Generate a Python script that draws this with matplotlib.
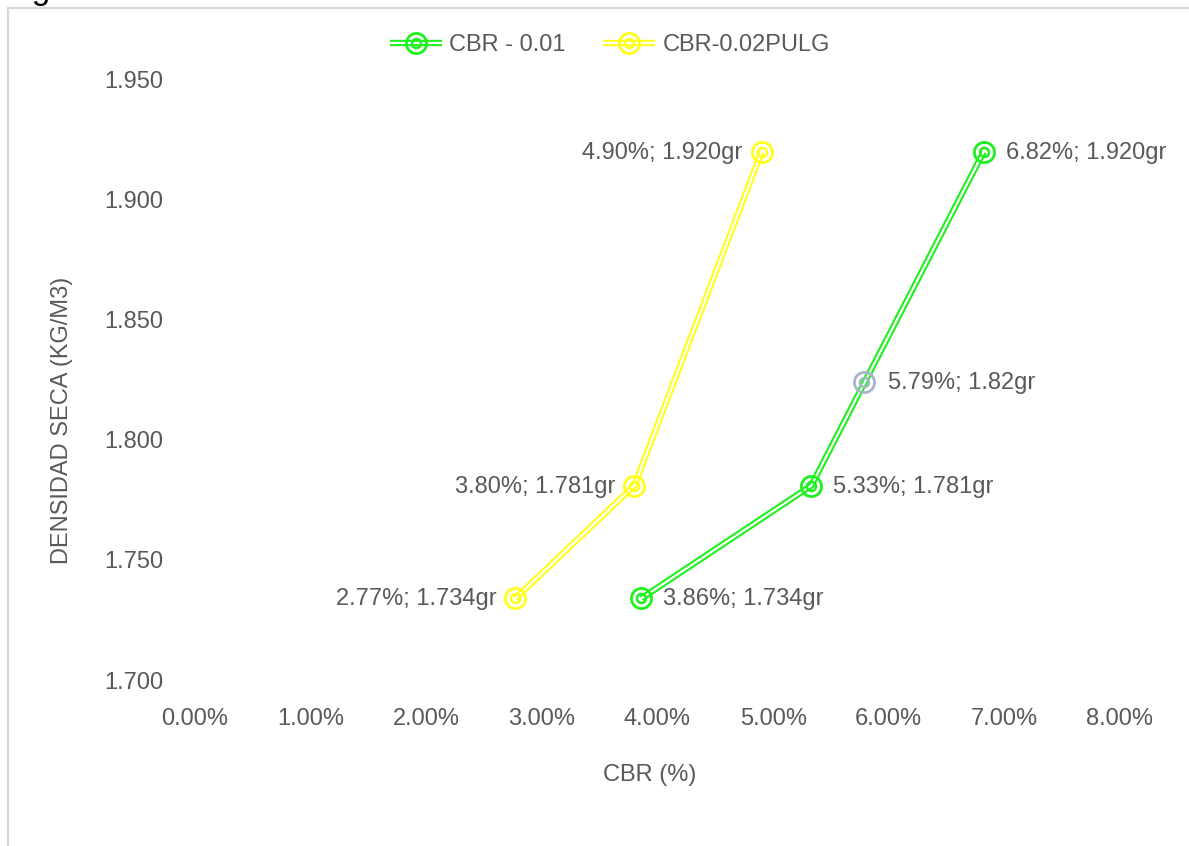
import matplotlib
matplotlib.use("Agg")
import matplotlib.pyplot as plt
from matplotlib.lines import Line2D
from matplotlib.patches import Rectangle

plt.rcParams['font.family'] = ['Liberation Sans', 'DejaVu Sans']

# Data
cbr_001 = [3.86, 5.33, 6.82]
dens_001 = [1.734, 1.781, 1.920]
labels_001 = ["3.86%; 1.734gr", "5.33%; 1.781gr", "6.82%; 1.920gr"]

cbr_002 = [2.77, 3.80, 4.90]
dens_002 = [1.734, 1.781, 1.920]
labels_002 = ["2.77%; 1.734gr", "3.80%; 1.781gr", "4.90%; 1.920gr"]

extra_cbr = [5.79]
extra_dens = [1.824]
extra_labels = ["5.79%; 1.82gr"]

xticks = [0, 1, 2, 3, 4, 5, 6, 7, 8]
yticks = [1.700, 1.750, 1.800, 1.850, 1.900, 1.950]

GREEN = '#1EF01E'
YELLOW = '#FFFF1A'
GRAY = '#A7B4CB'
TXT = '#595959'
FS = 17

W, H = 1189, 846
fig = plt.figure(figsize=(W / 100, H / 100), dpi=100)
ax = fig.add_axes([195 / W, 1 - 680 / H, (1120 - 195) / W, (680 - 80) / H])

def series(x, y, color, line=True):
    arts = []
    if line:
        a, = ax.plot(x, y, color=color, lw=4.6, solid_capstyle='butt', zorder=2)
        b, = ax.plot(x, y, color='white', lw=1.6, solid_capstyle='butt', zorder=3)
        arts += [a, b]
    c, = ax.plot(x, y, ls='none', marker='o', ms=14.5, mfc='none', mec=color, mew=2.0, zorder=4)
    d, = ax.plot(x, y, ls='none', marker='o', ms=6.5, mfc='none', mec=color, mew=1.8, zorder=4)
    arts += [c, d]
    return arts

series(cbr_001, dens_001, GREEN)
series(cbr_002, dens_002, YELLOW)
series(extra_cbr, extra_dens, GRAY, line=False)

for x, y, t in zip(cbr_001, dens_001, labels_001):
    ax.annotate(t, (x, y), xytext=(22, -1), textcoords='offset pixels',
                ha='left', va='center', fontsize=FS, color=TXT)
for x, y, t in zip(extra_cbr, extra_dens, extra_labels):
    ax.annotate(t, (x, y), xytext=(24, -1), textcoords='offset pixels',
                ha='left', va='center', fontsize=FS, color=TXT)
for x, y, t in zip(cbr_002, dens_002, labels_002):
    ax.annotate(t, (x, y), xytext=(-19, -1), textcoords='offset pixels',
                ha='right', va='center', fontsize=FS, color=TXT)

ax.set_xlim(0, 8)
ax.set_ylim(1.700, 1.950)
ax.set_xticks(xticks)
ax.set_xticklabels([f"{v:.2f}%" for v in xticks])
ax.set_yticks(yticks)
ax.set_yticklabels([f"{v:.3f}" for v in yticks])
ax.tick_params(axis='both', length=0, labelsize=FS, labelcolor=TXT)
ax.tick_params(axis='x', pad=20)
ax.tick_params(axis='y', pad=23)
for s in ax.spines.values():
    s.set_visible(False)
ax.patch.set_visible(False)

fig.text(650 / W, 1 - 775 / H, "CBR (%)", ha='center', va='center', fontsize=FS, color=TXT)
fig.text(62 / W, 1 - 420 / H, "DENSIDAD SECA (KG/M3)", ha='center', va='center',
         rotation=90, fontsize=FS, color=TXT)

def handle(color):
    return (Line2D([], [], color=color, lw=4.6, solid_capstyle='butt'),
            Line2D([], [], color='white', lw=1.6, solid_capstyle='butt'),
            Line2D([], [], ls='none', marker='o', ms=14.5, mfc='none', mec=color, mew=2.0),
            Line2D([], [], ls='none', marker='o', ms=6.5, mfc='none', mec=color, mew=1.8))

fig.legend([handle(GREEN), handle(YELLOW)], ["CBR - 0.01", "CBR-0.02PULG"],
           loc='center', bbox_to_anchor=(610 / W, 1 - 45 / H), ncol=2, frameon=False,
           fontsize=FS, labelcolor=TXT, handlelength=2.2, handletextpad=0.3,
           columnspacing=1.6)

# outer chart border (extends beyond the image on the right and bottom)
fig.patches.append(Rectangle((8 / W, -0.1), 1.2, 1 - 8 / H + 0.1, transform=fig.transFigure,
                             fill=False, edgecolor='#D9D9D9', lw=1.6, zorder=0))

# caption, clipped by the top edge as in the reference
fig.text(4 / W, 1 - 6 / H, "Figura 4. Curva densidad seca vs CBR", ha='left', va='bottom',
         fontsize=24, color='black')

fig.savefig("out.png", dpi=100)
